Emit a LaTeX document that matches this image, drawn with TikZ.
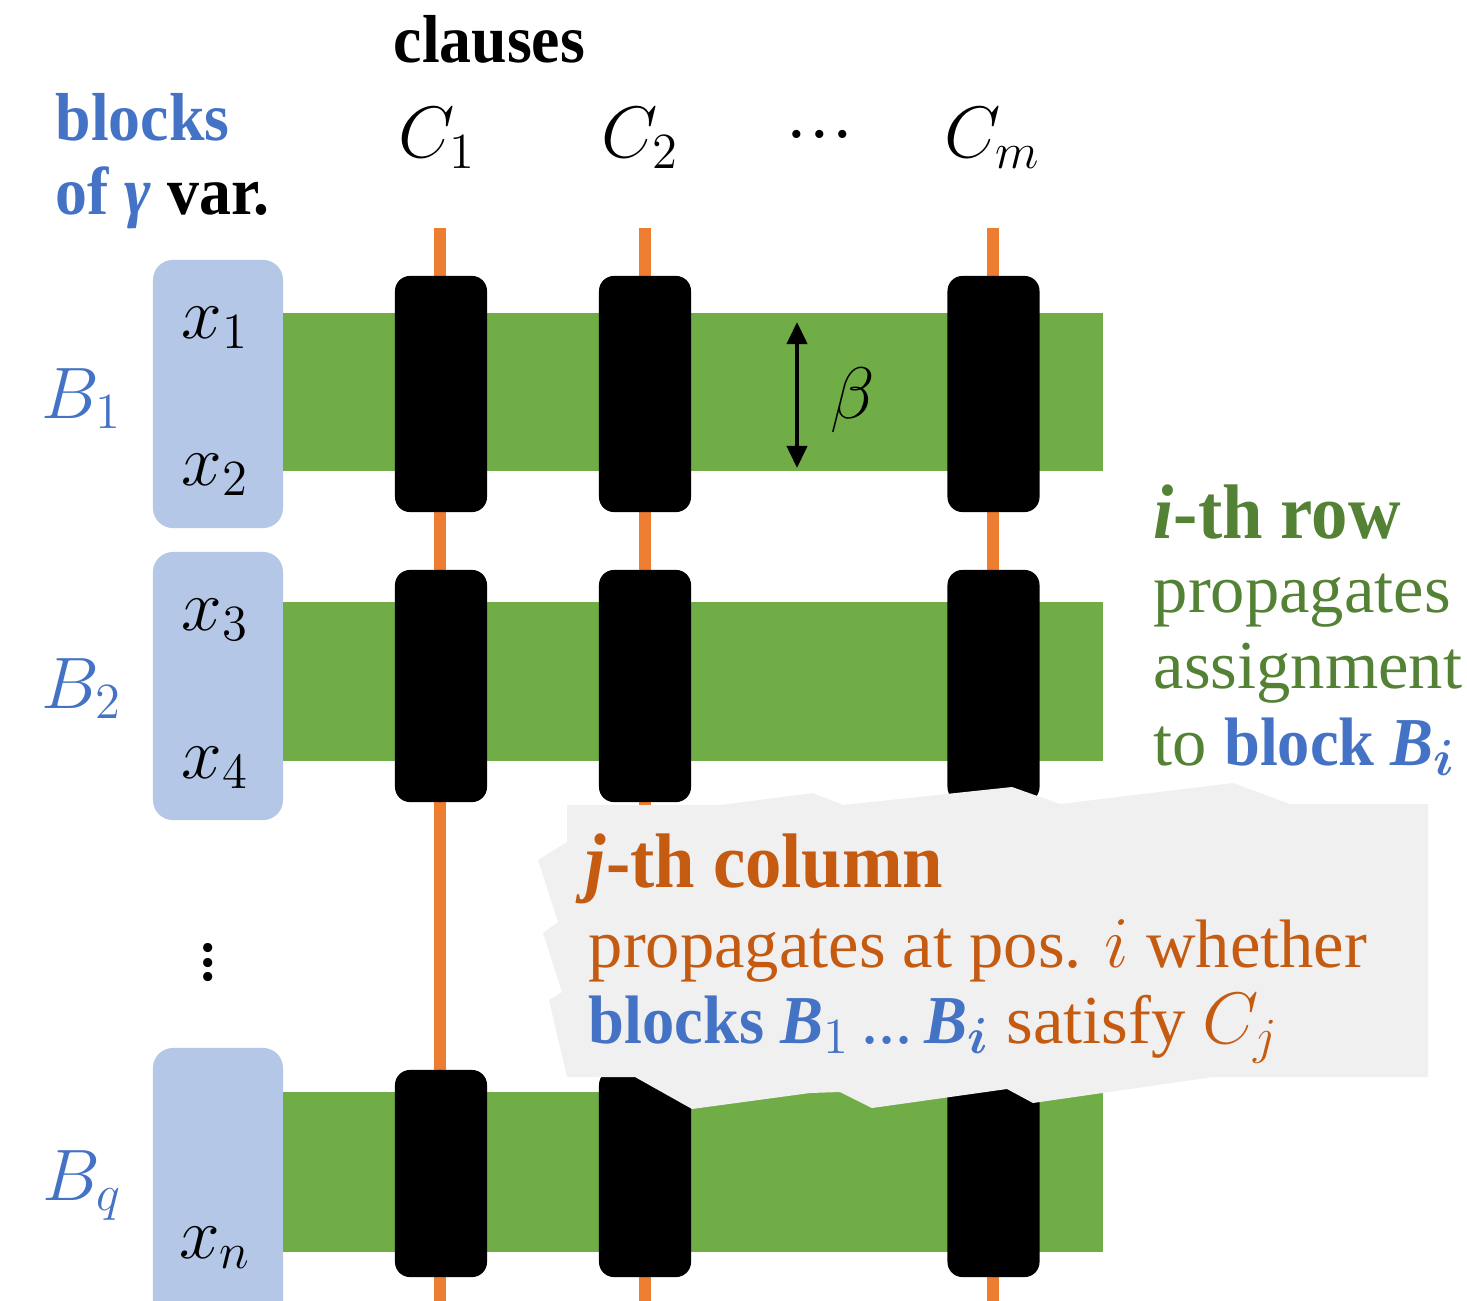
\documentclass[tikz,border=0pt]{standalone}
\usepackage{amsmath}
\usepackage{fontspec}
\setmainfont{Liberation Serif}[BoldFeatures={FakeStretch=0.94}, BoldItalicFeatures={FakeStretch=0.94}]
\usetikzlibrary{arrows.meta}

\definecolor{blockblue}{HTML}{B4C7E7}
\definecolor{textblue}{HTML}{4472C4}
\definecolor{rowgreen}{HTML}{70AD47}
\definecolor{textgreen}{HTML}{548235}
\definecolor{wireorange}{HTML}{ED7D31}
\definecolor{textorange}{HTML}{C55A11}
\definecolor{notegrey}{HTML}{F0F0F0}

% bold italic block letter with a subscript
\newcommand{\blk}[1]{{\bfseries\itshape B}$_{#1}$}

\begin{document}
\begin{tikzpicture}[
  x=0.01cm, y=-0.01cm,
  varblock/.style={fill=blockblue, rounded corners=0.2cm, minimum width=1.30cm, inner sep=0pt},
  rowbar/.style={fill=rowgreen, minimum width=8.20cm, inner sep=0pt},
  clausebox/.style={fill=black, rounded corners=0.15cm, minimum width=0.92cm, inner sep=0pt},
  wire/.style={draw=wireorange, line width=0.12cm},
  lbl/.style={inner sep=0pt, anchor=base west},
  lblc/.style={inner sep=0pt, anchor=base},
  txt/.style={font=\fontsize{19.5}{23}\selectfont},
  bigtxt/.style={font=\fontsize{22}{26}\selectfont\bfseries},
  headtxt/.style={font=\fontsize{19.3}{23}\selectfont\bfseries},
  mathtxt/.style={font=\fontsize{22}{26}\selectfont},
]
\useasboundingbox (0,0) rectangle (1467,1300);
\clip (0,0) rectangle (1467,1300);

% clause wires (columns)
\foreach \n/\x in {1/440, 2/645, 3/993} {
  \coordinate (w\n t) at (\x,228);
  \coordinate (w\n b) at (\x,1310);
  \draw[wire] (w\n t) -- (w\n b);
}

% variable blocks
\node[varblock, minimum height=2.68cm] (blk1) at (218,394) {};
\node[varblock, minimum height=2.68cm] (blk2) at (218,686) {};
\node[varblock, minimum height=2.80cm] (blkq) at (218,1188) {};

% rows
\node[rowbar, minimum height=1.58cm] (row1) at (693,392) {};
\node[rowbar, minimum height=1.59cm] (row2) at (693,681.5) {};
\node[rowbar, minimum height=1.60cm] (rowq) at (693,1172) {};

% clause gadgets at the crossings
\foreach \c/\x in {1/441, 2/645, 3/993.5} {
  \node[clausebox, minimum height=2.36cm] (g1\c) at (\x,394) {};
  \node[clausebox, minimum height=2.32cm] (g2\c) at (\x,686) {};
  \node[clausebox, minimum height=2.07cm] (gq\c) at (\x,1173.5) {};
}

% row height marker
\coordinate (btop) at (797,322);
\coordinate (bbot) at (797,468);
\draw[line width=0.04cm, {Triangle[width=0.2cm,length=0.22cm]}-{Triangle[width=0.2cm,length=0.22cm]}] (btop) -- (bbot);
\node[lbl, mathtxt] (beta) at (830,418) {$\beta$};

% column headers
\node[lbl, headtxt] (clauses) at (393,63) {clauses};
\node[lblc, mathtxt] (c1) at (437,158) {$C_1$};
\node[lblc, mathtxt] (c2) at (640,158) {$C_2$};
\node[lblc, txt] (cdots) at (820,137) {…};
\node[lblc, mathtxt] (cm) at (993,158) {$C_m$};

% block headers
\node[lbl, headtxt, text=textblue] (hblocks) at (55,141) {blocks};
\node[lbl, headtxt] (hvar) at (55,215) {{\color{textblue}of \textit{γ}} var.};

% block names
\node[lblc, mathtxt, text=textblue] (nb1) at (82,418) {$B_1$};
\node[lblc, mathtxt, text=textblue] (nb2) at (82,708) {$B_2$};
\node[lblc, mathtxt, text=textblue] (nbq) at (82,1200) {$B_q$};

% variables
\node[lblc, mathtxt] (x1) at (215,338) {$x_1$};
\node[lblc, mathtxt] (x2) at (215,485) {$x_2$};
\node[lblc, mathtxt] (x3) at (215,630) {$x_3$};
\node[lblc, mathtxt] (x4) at (215,778) {$x_4$};
\node[lblc, mathtxt] (xn) at (215,1258) {$x_n$};
\node[inner sep=0pt, mathtxt] (vd) at (208,952) {$\vdots$};

% row explanation
\node[lbl, bigtxt, text=textgreen] (rowhead) at (1153,538) {\textit{i}-th row};
\node[lbl, txt, text=textgreen] (rowl1) at (1153,612) {propagates};
\node[lbl, txt, text=textgreen] (rowl2) at (1153,688) {assignment};
\node[lbl, txt, text=textgreen] (rowl3) at (1153,765) {to {\color{textblue}\bfseries block \blk{\boldsymbol{i}}}};

% column explanation note
\fill[notegrey] (567,805) -- (720,805) -- (813,793) -- (843,805) -- (1012,787)
  -- (1060,804) -- (1233,783) -- (1290,804) -- (1428,804) -- (1428,1077)
  -- (1213,1077) -- (1033,1103) -- (1007,1089) -- (872,1108) -- (840,1092)
  -- (810,1093) -- (692,1109) -- (635,1077) -- (567,1077) -- (549,1000)
  -- (562,992) -- (543,933) -- (558,922) -- (538,860) -- (567,842) -- cycle;
\node[lbl, bigtxt, text=textorange] (colhead) at (585,887) {\textit{j}-th column};
\node[lbl, txt, text=textorange] (coll1) at (588,967) {propagates at pos. $i$ whether};
\node[lbl, txt, text=textorange] (coll2) at (588,1043)
  {{\color{textblue}\bfseries blocks \blk{1}\,{\mdseries...}\,\blk{\boldsymbol{i}}} satisfy $C_j$};
\end{tikzpicture}
\end{document}
